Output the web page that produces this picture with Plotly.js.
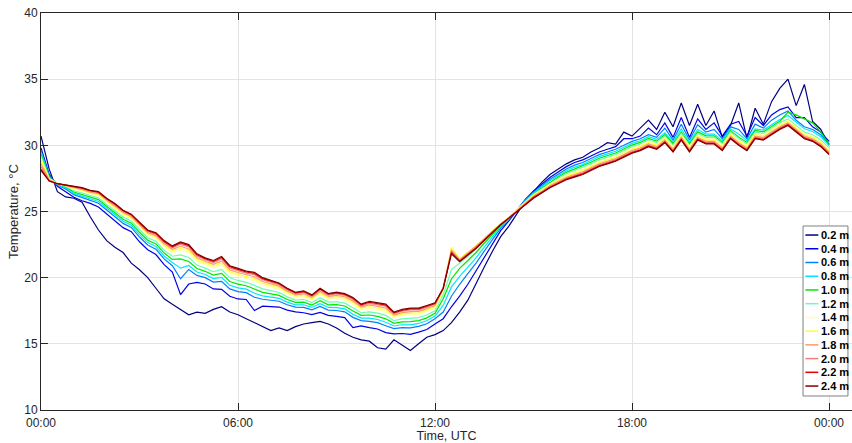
<!DOCTYPE html>
<html>
<head>
<meta charset="utf-8">
<script src="https://cdn.plot.ly/plotly-3.0.1.min.js"></script>
<style>
  html, body { margin: 0; padding: 0; background: #fff; }
  #chart { width: 852px; height: 443px; }
</style>
</head>
<body>
<div id="chart"></div>
<script>
// Sampling grid: one reading every 15 minutes, hours since 00:00 UTC
const hours = Array.from({ length: 97 }, (_, i) => i * 0.25);

// Sensor depths and their line colours
const depths = ['0.2 m', '0.4 m', '0.6 m', '0.8 m', '1.0 m', '1.2 m',
                '1.4 m', '1.6 m', '1.8 m', '2.0 m', '2.2 m', '2.4 m'];
const colors = ['#000080', '#0000e6', '#0080ff', '#00e8ff', '#00e600', '#66ffb2',
                '#ffffa6', '#ffff33', '#ff9966', '#f08080', '#e00000', '#800000'];

// Temperature, °C, per depth
const t02 = [30.7, 28.2, 26.5, 26.1, 26.0, 25.7, 24.6, 23.6, 22.8, 22.3, 21.9, 21.1,
  20.6, 20.0, 19.2, 18.4, 18.0, 17.6, 17.2, 17.4, 17.3, 17.6, 17.8, 17.4,
  17.2, 16.9, 16.6, 16.3, 16.0, 16.2, 16.0, 16.3, 16.5, 16.6, 16.7, 16.5,
  16.2, 15.8, 15.5, 15.3, 15.2, 14.7, 14.6, 15.3, 14.9, 14.5, 15.0, 15.5,
  15.7, 16.0, 16.6, 17.4, 18.3, 19.6, 20.8, 22.0, 23.1, 23.9, 24.9, 25.8,
  26.5, 27.2, 27.8, 28.2, 28.6, 28.9, 29.1, 29.5, 29.8, 30.2, 30.1, 31.0,
  30.7, 31.3, 31.9, 31.2, 32.5, 31.4, 33.2, 31.5, 33.1, 31.5, 32.6, 30.6,
  31.5, 33.2, 30.5, 32.8, 31.6, 33.3, 34.3, 35.0, 33.0, 34.6, 31.8, 31.2, 30.0];
const t04 = [29.8, 27.8, 26.9, 26.5, 26.07, 25.81, 25.61, 25.34, 24.84, 24.28, 23.78, 23.48,
  22.71, 22.11, 21.75, 20.98, 20.42, 18.72, 19.52, 19.65, 19.52, 19.15, 19.12, 18.59,
  18.39, 18.35, 17.52, 17.85, 17.82, 17.78, 17.55, 17.41, 17.35, 17.21, 17.38, 17.15,
  17.08, 16.98, 16.22, 16.35, 16.22, 16.12, 15.85, 15.75, 15.78, 15.72, 15.88, 16.08,
  16.5, 16.9, 17.8, 18.6, 19.5, 20.5, 21.5, 22.6, 23.55, 24.3, 25.1, 25.92,
  26.55, 27.06, 27.57, 27.98, 28.39, 28.7, 28.9, 29.2, 29.5, 29.7, 29.9, 30.5,
  30.5, 30.7, 31.3, 30.8, 31.7, 30.6, 32.1, 30.6, 32.0, 31.2, 31.7, 30.7,
  31.6, 31.8, 30.7, 32.1, 31.5, 32.3, 32.7, 32.9, 32.1, 32.1, 31.4, 31.0, 30.3];
const t06 = [29.6, 27.7, 27.0, 26.7, 26.27, 26.05, 25.85, 25.62, 25.12, 24.60, 24.10, 23.80,
  23.07, 22.47, 22.15, 21.42, 20.90, 19.92, 20.62, 20.17, 20.00, 19.67, 19.72, 19.15,
  18.95, 18.87, 18.52, 18.37, 18.30, 18.22, 17.95, 17.77, 17.75, 17.57, 17.82, 17.55,
  17.52, 17.42, 17.00, 16.75, 16.70, 16.60, 16.37, 16.15, 16.22, 16.20, 16.32, 16.52,
  16.9, 17.4, 18.6, 19.5, 20.3, 21.1, 22.0, 22.9, 23.75, 24.4, 25.15, 25.86,
  26.45, 26.94, 27.43, 27.82, 28.21, 28.5, 28.7, 29.0, 29.3, 29.5, 29.7, 30.0,
  30.3, 30.5, 30.8, 30.6, 31.3, 30.4, 31.6, 30.4, 31.55, 31.0, 31.2, 30.5,
  31.4, 31.2, 30.5, 31.6, 31.3, 31.9, 32.3, 32.6, 31.9, 31.4, 31.2, 30.8, 30.1];
const t08 = [29.5, 27.6, 27.05, 26.8, 26.37, 26.17, 25.97, 25.76, 25.26, 24.76, 24.26, 23.96,
  23.25, 22.65, 22.35, 21.64, 21.14, 20.72, 20.92, 20.43, 20.24, 19.93, 20.02, 19.43,
  19.23, 19.13, 18.82, 18.63, 18.54, 18.44, 18.15, 17.95, 17.95, 17.75, 18.04, 17.75,
  17.74, 17.64, 17.24, 16.95, 16.94, 16.84, 16.63, 16.35, 16.44, 16.44, 16.54, 16.74,
  17.1, 17.9, 19.3, 20.1, 20.8, 21.5, 22.3, 23.1, 23.85, 24.45, 25.15, 25.82,
  26.4, 26.85, 27.33, 27.7, 28.08, 28.35, 28.55, 28.85, 29.15, 29.35, 29.55, 29.85,
  30.15, 30.35, 30.65, 30.45, 30.95, 30.25, 31.25, 30.25, 31.2, 30.85, 30.85, 30.35,
  31.25, 30.85, 30.35, 31.25, 31.15, 31.55, 31.95, 32.25, 31.75, 31.25, 31.05, 30.65, 30.0];
const t10 = [29.3, 27.6, 27.1, 26.85, 26.47, 26.29, 26.09, 25.90, 25.40, 24.92, 24.42, 24.12,
  23.43, 22.83, 22.55, 21.86, 21.38, 21.42, 21.22, 20.69, 20.48, 20.19, 20.32, 19.71,
  19.51, 19.39, 19.12, 18.89, 18.78, 18.66, 18.35, 18.13, 18.15, 17.93, 18.26, 17.95,
  17.96, 17.86, 17.48, 17.15, 17.18, 17.08, 16.89, 16.55, 16.66, 16.68, 16.76, 16.96,
  17.3, 18.4, 19.9, 20.7, 21.3, 21.9, 22.6, 23.3, 23.95, 24.5, 25.16, 25.78,
  26.35, 26.77, 27.23, 27.6, 27.96, 28.22, 28.42, 28.72, 29.02, 29.22, 29.42, 29.72,
  30.02, 30.22, 30.52, 30.32, 30.82, 30.12, 31.02, 30.12, 31.02, 30.72, 30.72, 30.22,
  31.12, 30.62, 30.22, 31.12, 31.02, 31.42, 31.82, 32.5, 32.3, 32.0, 31.7, 31.0, 30.1];
const t12 = [29.2, 27.5, 27.1, 26.9, 26.57, 26.41, 26.21, 26.04, 25.54, 25.08, 24.58, 24.28,
  23.61, 23.01, 22.75, 22.08, 21.62, 21.72, 21.52, 20.95, 20.72, 20.45, 20.62, 19.99,
  19.79, 19.65, 19.42, 19.15, 19.02, 18.88, 18.55, 18.31, 18.35, 18.11, 18.48, 18.15,
  18.18, 18.08, 17.72, 17.35, 17.42, 17.32, 17.15, 16.75, 16.88, 16.92, 16.98, 17.18,
  17.5, 18.7, 20.6, 21.1, 21.6, 22.2, 22.8, 23.4, 24.0, 24.55, 25.14, 25.74,
  26.3, 26.7, 27.15, 27.5, 27.85, 28.1, 28.3, 28.6, 28.9, 29.1, 29.3, 29.6,
  29.9, 30.1, 30.4, 30.2, 30.7, 30.0, 30.9, 30.0, 30.9, 30.6, 30.6, 30.1,
  31.0, 30.5, 30.1, 31.0, 30.9, 31.3, 31.7, 32.0, 31.5, 31.0, 30.8, 30.4, 29.8];
const t14 = [29.0, 27.5, 27.1, 26.95, 26.69, 26.55, 26.35, 26.21, 25.71, 25.26, 24.76, 24.46,
  23.82, 23.22, 22.98, 22.34, 21.90, 22.07, 21.87, 21.25, 21.00, 20.75, 20.97, 20.31,
  20.11, 19.95, 19.77, 19.45, 19.30, 19.14, 18.78, 18.52, 18.58, 18.32, 18.74, 18.38,
  18.44, 18.34, 18.00, 17.58, 17.70, 17.60, 17.45, 16.98, 17.14, 17.20, 17.24, 17.44,
  17.7, 19.0, 22.2, 21.4, 21.9, 22.4, 22.95, 23.5, 24.05, 24.55, 25.12, 25.7,
  26.25, 26.64, 27.08, 27.42, 27.76, 28.0, 28.2, 28.5, 28.8, 29.0, 29.2, 29.5,
  29.8, 30.0, 30.3, 30.1, 30.6, 29.9, 30.8, 29.9, 30.8, 30.5, 30.5, 30.0,
  30.9, 30.4, 30.0, 30.9, 30.8, 31.2, 31.6, 31.9, 31.4, 30.9, 30.7, 30.3, 29.7];
const t16 = [28.9, 27.4, 27.1, 26.95, 26.74, 26.61, 26.41, 26.28, 25.78, 25.34, 24.84, 24.54,
  23.91, 23.31, 23.08, 22.45, 22.02, 22.22, 22.02, 21.38, 21.12, 20.88, 21.12, 20.45,
  20.25, 20.08, 19.92, 19.58, 19.42, 19.25, 18.88, 18.61, 18.68, 18.41, 18.85, 18.48,
  18.55, 18.45, 18.12, 17.68, 17.82, 17.72, 17.58, 17.08, 17.25, 17.32, 17.35, 17.55,
  17.8, 19.1, 22.3, 21.45, 21.95, 22.4, 23.0, 23.55, 24.1, 24.55, 25.1, 25.66,
  26.2, 26.58, 27.01, 27.34, 27.67, 27.9, 28.1, 28.4, 28.7, 28.9, 29.1, 29.4,
  29.7, 29.9, 30.2, 30.0, 30.5, 29.8, 30.7, 29.8, 30.7, 30.4, 30.4, 29.9,
  30.8, 30.3, 29.9, 30.8, 30.7, 31.1, 31.5, 31.8, 31.3, 30.8, 30.6, 30.2, 29.6];
const t18 = [28.6, 27.4, 27.1, 26.97, 26.79, 26.67, 26.47, 26.35, 25.85, 25.42, 24.92, 24.62,
  24.00, 23.40, 23.18, 22.56, 22.14, 22.37, 22.17, 21.51, 21.24, 21.01, 21.27, 20.59,
  20.39, 20.21, 20.07, 19.71, 19.54, 19.36, 18.98, 18.70, 18.78, 18.50, 18.96, 18.58,
  18.66, 18.56, 18.24, 17.78, 17.94, 17.84, 17.71, 17.18, 17.36, 17.44, 17.46, 17.66,
  17.9, 19.2, 22.1, 21.35, 21.85, 22.35, 22.9, 23.5, 24.05, 24.55, 25.08, 25.62,
  26.15, 26.52, 26.94, 27.26, 27.58, 27.8, 28.0, 28.3, 28.6, 28.8, 29.0, 29.3,
  29.6, 29.8, 30.1, 29.9, 30.4, 29.7, 30.6, 29.7, 30.6, 30.3, 30.3, 29.8,
  30.7, 30.2, 29.8, 30.7, 30.6, 31.0, 31.4, 31.7, 31.2, 30.7, 30.5, 30.1, 29.5];
const t20 = [28.4, 27.35, 27.1, 26.98, 26.84, 26.73, 26.53, 26.42, 25.92, 25.50, 25.00, 24.70,
  24.09, 23.49, 23.28, 22.67, 22.26, 22.52, 22.32, 21.64, 21.36, 21.14, 21.42, 20.73,
  20.53, 20.34, 20.22, 19.84, 19.66, 19.47, 19.08, 18.79, 18.88, 18.59, 19.07, 18.68,
  18.77, 18.67, 18.36, 17.88, 18.06, 17.96, 17.84, 17.28, 17.47, 17.56, 17.57, 17.77,
  18.0, 19.2, 22.0, 21.3, 21.8, 22.3, 22.9, 23.5, 24.05, 24.5, 25.05, 25.58,
  26.1, 26.47, 26.88, 27.2, 27.51, 27.72, 27.92, 28.22, 28.52, 28.72, 28.92, 29.22,
  29.52, 29.72, 30.02, 29.82, 30.32, 29.62, 30.52, 29.62, 30.52, 30.22, 30.22, 29.72,
  30.62, 30.12, 29.72, 30.62, 30.52, 30.92, 31.32, 31.62, 31.12, 30.62, 30.42, 30.02, 29.42];
const t22 = [28.2, 27.3, 27.1, 27.0, 26.87, 26.77, 26.57, 26.46, 25.96, 25.56, 25.06, 24.76,
  24.15, 23.55, 23.35, 22.74, 22.34, 22.62, 22.42, 21.73, 21.44, 21.23, 21.52, 20.83,
  20.63, 20.43, 20.32, 19.93, 19.74, 19.54, 19.15, 18.85, 18.95, 18.65, 19.14, 18.75,
  18.84, 18.74, 18.44, 17.95, 18.14, 18.04, 17.93, 17.35, 17.54, 17.64, 17.64, 17.84,
  18.05, 19.2, 21.9, 21.25, 21.75, 22.25, 22.85, 23.45, 24.0, 24.5, 25.02, 25.54,
  26.05, 26.43, 26.84, 27.14, 27.45, 27.65, 27.85, 28.15, 28.45, 28.65, 28.85, 29.15,
  29.45, 29.65, 29.95, 29.75, 30.25, 29.55, 30.45, 29.55, 30.45, 30.15, 30.15, 29.65,
  30.55, 30.05, 29.65, 30.55, 30.45, 30.85, 31.25, 31.55, 31.05, 30.55, 30.35, 29.95, 29.35];
const t24 = [28.1, 27.3, 27.1, 27.0, 26.9, 26.8, 26.6, 26.5, 26.0, 25.6, 25.1, 24.8,
  24.2, 23.6, 23.4, 22.8, 22.4, 22.7, 22.5, 21.8, 21.5, 21.3, 21.6, 20.9,
  20.7, 20.5, 20.4, 20.0, 19.8, 19.6, 19.2, 18.9, 19.0, 18.7, 19.2, 18.8,
  18.9, 18.8, 18.5, 18.0, 18.2, 18.1, 18.0, 17.4, 17.6, 17.7, 17.7, 17.9,
  18.1, 19.2, 21.8, 21.2, 21.7, 22.2, 22.8, 23.4, 24.0, 24.5, 25.0, 25.5,
  26.0, 26.4, 26.8, 27.1, 27.4, 27.6, 27.8, 28.1, 28.4, 28.6, 28.8, 29.1,
  29.4, 29.6, 29.9, 29.7, 30.2, 29.5, 30.4, 29.5, 30.4, 30.1, 30.1, 29.6,
  30.5, 30.0, 29.6, 30.5, 30.4, 30.8, 31.2, 31.5, 31.0, 30.5, 30.3, 29.9, 29.3];

const series = [t02, t04, t06, t08, t10, t12, t14, t16, t18, t20, t22, t24];

const xTicks = [0, 6, 12, 18, 24];
const xTickText = ['00:00', '06:00', '12:00', '18:00', '00:00'];
const yTicks = [10, 15, 20, 25, 30, 35, 40];

const traces = series.map((y, k) => ({
  type: 'scatter',
  mode: 'lines',
  x: hours,
  y: y,
  name: depths[k],
  line: { color: colors[k], width: 1.2 },
  hoverinfo: 'x+y+name',
  showlegend: false
}));

// Boxed key in the lower right corner of the axes
const keyLeft = 0.9396, keyRight = 0.995, keyTop = 0.4635, keyBottom = 0.0353;
const rowTop = 0.4407, rowStep = 0.03458;
const shapes = [{
  type: 'rect', xref: 'paper', yref: 'paper',
  x0: keyLeft, x1: keyRight, y0: keyBottom, y1: keyTop,
  line: { color: '#808080', width: 1 }, fillcolor: '#ffffff', layer: 'above'
}];
const annotations = [];
depths.forEach((d, k) => {
  const yy = rowTop - k * rowStep;
  shapes.push({
    type: 'line', xref: 'paper', yref: 'paper',
    x0: 0.9425, x1: 0.9585, y0: yy, y1: yy,
    line: { color: colors[k], width: 1.5 }, layer: 'above'
  });
  annotations.push({
    xref: 'paper', yref: 'paper', x: 0.9590, y: yy,
    xanchor: 'left', yanchor: 'middle', showarrow: false,
    text: '<b>' + d + '</b>',
    font: { family: 'Liberation Sans, Arial, sans-serif', size: 11, color: '#000000' }
  });
});

const axisFont = { family: 'Liberation Sans, Arial, Helvetica, sans-serif', size: 12, color: '#262626' };

const layout = {
  width: 852,
  height: 443,
  margin: { l: 41, r: 0, t: 13, b: 33, pad: 0 },
  paper_bgcolor: '#ffffff',
  plot_bgcolor: '#ffffff',
  showlegend: false,
  xaxis: {
    range: [0, 24.7],
    tickvals: xTicks,
    ticktext: xTickText,
    ticks: 'inside',
    ticklen: 7,
    tickwidth: 1,
    tickcolor: '#262626',
    ticklabelstandoff: 2,
    showline: true,
    linecolor: '#262626',
    linewidth: 1,
    mirror: 'ticks',
    showgrid: true,
    gridcolor: '#e3e3e3',
    gridwidth: 1,
    zeroline: false,
    automargin: false,
    tickfont: axisFont,
    title: { text: 'Time, UTC', font: { family: axisFont.family, size: 12.5, color: '#262626' }, standoff: 4 }
  },
  yaxis: {
    range: [10, 40],
    tickvals: yTicks,
    ticks: 'inside',
    ticklen: 7,
    tickwidth: 1,
    tickcolor: '#262626',
    showline: true,
    linecolor: '#262626',
    linewidth: 1,
    mirror: false,
    showgrid: true,
    gridcolor: '#e3e3e3',
    gridwidth: 1,
    zeroline: false,
    automargin: false,
    tickfont: axisFont,
    title: { text: 'Temperature, °C', font: { family: axisFont.family, size: 13, color: '#262626' }, standoff: 2 }
  },
  shapes: shapes,
  annotations: annotations
};

Plotly.newPlot('chart', traces, layout, { displayModeBar: false, staticPlot: true });
</script>
</body>
</html>
